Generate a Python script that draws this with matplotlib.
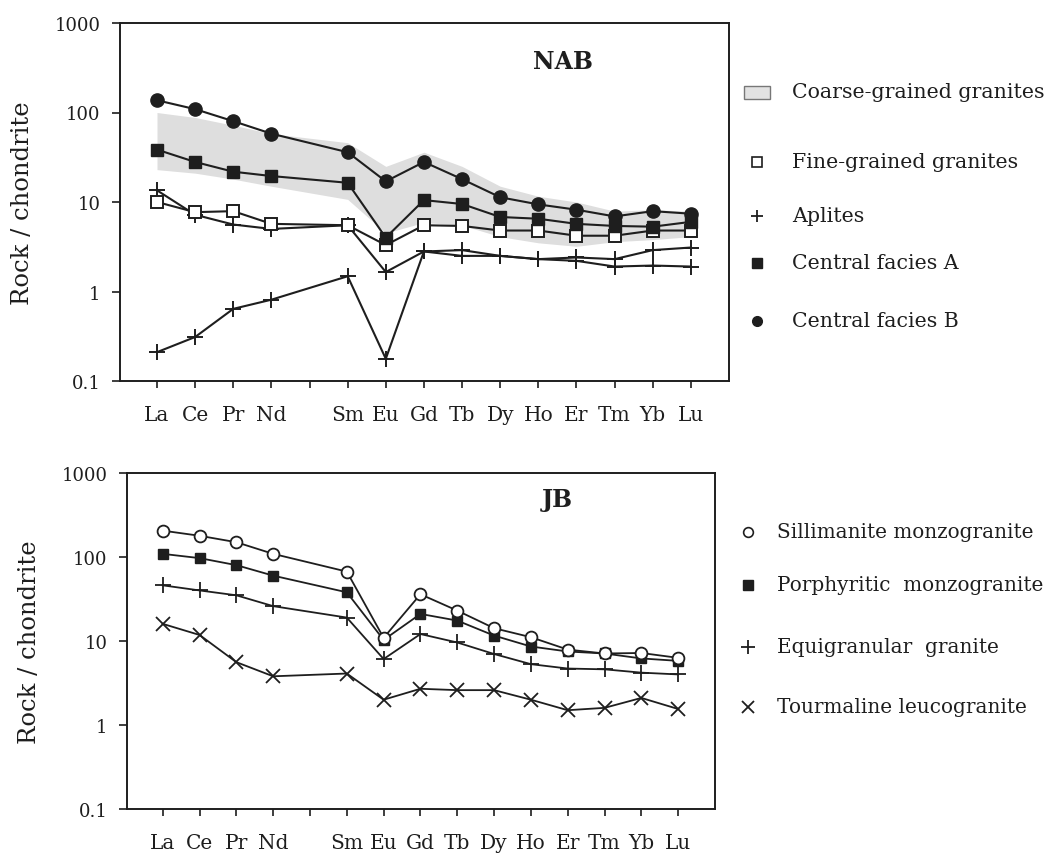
import matplotlib
matplotlib.use("Agg")
import matplotlib.pyplot as plt
from matplotlib.patches import Rectangle
from matplotlib.ticker import FixedLocator, NullLocator, FuncFormatter

plt.rcParams["font.family"] = ["DejaVu Serif"]

# REE categories (Pm position left empty)
ree = ["La", "Ce", "Pr", "Nd", "Sm", "Eu", "Gd", "Tb", "Dy", "Ho", "Er", "Tm", "Yb", "Lu"]
ree_pos = [1, 2, 3, 4, 6, 7, 8, 9, 10, 11, 12, 13, 14, 15]
tick_pos = list(range(1, 16))
tick_lab = ["La", "Ce", "Pr", "Nd", "", "Sm", "Eu", "Gd", "Tb", "Dy", "Ho", "Er", "Tm", "Yb", "Lu"]

# NAB panel
coarse_hi = [100, 88, 72, 58, 46, 25, 36, 25, 15, 11.6, 10, 7.9, 8.2, 7.9]
coarse_lo = [23, 21, 18, 15, 10.7, 4.5, 5.9, 5.5, 4.1, 3.5, 3.2, 3.6, 3.8, 4.1]
fine_grained = [10, 7.7, 7.9, 5.7, 5.5, 3.3, 5.5, 5.4, 4.8, 4.8, 4.2, 4.2, 4.8, 4.8]
aplite_1 = [13.5, 7.2, 5.6, 5.0, 5.5, 1.65, 2.8, 2.5, 2.5, 2.3, 2.2, 1.9, 1.95, 1.9]
aplite_2 = [0.21, 0.31, 0.64, 0.81, 1.48, 0.177, 2.8, 2.9, 2.5, 2.3, 2.4, 2.3, 2.9, 3.1]
central_a = [38.5, 28, 21.8, 19.5, 16.4, 4.0, 10.5, 9.5, 6.8, 6.5, 5.7, 5.4, 5.3, 6.0]
central_b = [137, 109, 80, 58, 36, 17, 28, 18, 11.3, 9.4, 8.2, 6.9, 7.9, 7.4]

# JB panel
sillimanite = [206, 179, 150, 109, 67, 10.9, 36, 23, 14.2, 11.1, 7.9, 7.1, 7.2, 6.3]
porphyritic = [109, 97, 80, 60, 38, 10.3, 21, 17.5, 11.6, 8.6, 7.5, 7.1, 6.2, 5.8]
equigranular = [46, 40, 35, 26, 19, 6.1, 12.1, 9.6, 7.0, 5.3, 4.7, 4.6, 4.2, 4.0]
tourmaline = [16, 11.8, 5.6, 3.8, 4.1, 2.0, 2.7, 2.6, 2.6, 2.0, 1.5, 1.6, 2.1, 1.55]

INK = "#1e1e1e"
W, H = 1049, 854

fig = plt.figure(figsize=(W / 100, H / 100), dpi=100)
ax1 = fig.add_axes([120 / W, 1 - 382 / H, 609 / W, 358 / H])
ax2 = fig.add_axes([127 / W, 1 - 810 / H, 588 / W, 336 / H])


def style_axis(ax):
    ax.set_yscale("log")
    ax.set_ylim(0.1, 1000)
    ax.set_xlim(0.03, 16.0)
    ax.yaxis.set_major_locator(FixedLocator([0.1, 1, 10, 100, 1000]))
    ax.yaxis.set_minor_locator(NullLocator())
    ax.yaxis.set_major_formatter(FuncFormatter(lambda v, p: f"{v:g}"))
    ax.set_xticks(tick_pos)
    ax.set_xticklabels(tick_lab)
    ax.tick_params(axis="x", direction="out", length=5, width=1.2,
                   color=INK, labelsize=14.5, pad=12, labelcolor=INK)
    ax.tick_params(axis="y", direction="out", length=6, width=1.2,
                   color=INK, labelsize=13, pad=8, labelcolor=INK)
    for s in ax.spines.values():
        s.set_linewidth(1.4)
        s.set_color(INK)
    ax.set_ylabel("Rock / chondrite", fontsize=17.5, color=INK, labelpad=15)


style_axis(ax1)
style_axis(ax2)

# --- NAB ---
ax1.fill_between(ree_pos, coarse_lo, coarse_hi, color="#dedede", lw=0, zorder=1)
lw = 1.5
ax1.plot(ree_pos, aplite_2, color=INK, lw=lw, marker="+", ms=11, mew=1.4, zorder=3)
ax1.plot(ree_pos, aplite_1, color=INK, lw=lw, marker="+", ms=11, mew=1.4, zorder=3)
ax1.plot(ree_pos, fine_grained, color=INK, lw=lw, marker="s", ms=9, mfc="white",
         mec=INK, mew=1.4, zorder=4)
ax1.plot(ree_pos, central_a, color=INK, lw=lw, marker="s", ms=9, mfc=INK,
         mec=INK, zorder=4)
ax1.plot(ree_pos, central_b, color=INK, lw=lw, marker="o", ms=9.5, mfc=INK,
         mec=INK, zorder=4)
ax1.text(0.727, 0.893, "NAB", transform=ax1.transAxes, ha="center", va="center",
         fontsize=17, fontweight="bold", color=INK)

# --- JB ---
lw2 = 1.3
ax2.plot(ree_pos, tourmaline, color=INK, lw=lw2, marker="x", ms=10, mew=1.3, zorder=3)
ax2.plot(ree_pos, equigranular, color=INK, lw=lw2, marker="+", ms=11, mew=1.3, zorder=3)
ax2.plot(ree_pos, porphyritic, color=INK, lw=lw2, marker="s", ms=7.5, mfc=INK,
         mec=INK, zorder=4)
ax2.plot(ree_pos, sillimanite, color=INK, lw=lw2, marker="o", ms=8.5, mfc="white",
         mec=INK, mew=1.3, zorder=5)
ax2.text(0.731, 0.923, "JB", transform=ax2.transAxes, ha="center", va="center",
         fontsize=17, fontweight="bold", color=INK)

# --- legends (pixel overlay) ---
lg = fig.add_axes([0, 0, 1, 1])
lg.set_xlim(0, W)
lg.set_ylim(H, 0)
lg.axis("off")

lg.add_patch(Rectangle((744, 87), 26, 13, facecolor="#e2e2e2", edgecolor="#777777", lw=1))
top_items = [
    (93, None, "Coarse-grained granites"),
    (163, dict(marker="s", ms=7, mfc="white", mec=INK, mew=1.2), "Fine-grained granites"),
    (217, dict(marker="+", ms=9, mec=INK, mew=1.3), "Aplites"),
    (264, dict(marker="s", ms=7, mfc=INK, mec=INK), "Central facies A"),
    (322, dict(marker="o", ms=7, mfc=INK, mec=INK), "Central facies B"),
]
for y, mk, label in top_items:
    if mk is not None:
        lg.plot([757], [y], ls="none", **mk)
    lg.text(792, y, label, fontsize=14.8, va="center", ha="left", color=INK)

bottom_items = [
    (533, dict(marker="o", ms=7, mfc="white", mec=INK, mew=1.2), "Sillimanite monzogranite"),
    (586, dict(marker="s", ms=7, mfc=INK, mec=INK), "Porphyritic  monzogranite"),
    (648, dict(marker="+", ms=10, mec=INK, mew=1.3), "Equigranular  granite"),
    (708, dict(marker="x", ms=9, mec=INK, mew=1.3), "Tourmaline leucogranite"),
]
for y, mk, label in bottom_items:
    lg.plot([748], [y], ls="none", **mk)
    lg.text(777, y, label, fontsize=14.4, va="center", ha="left", color=INK)

fig.savefig("out.png", dpi=100, facecolor="white")
